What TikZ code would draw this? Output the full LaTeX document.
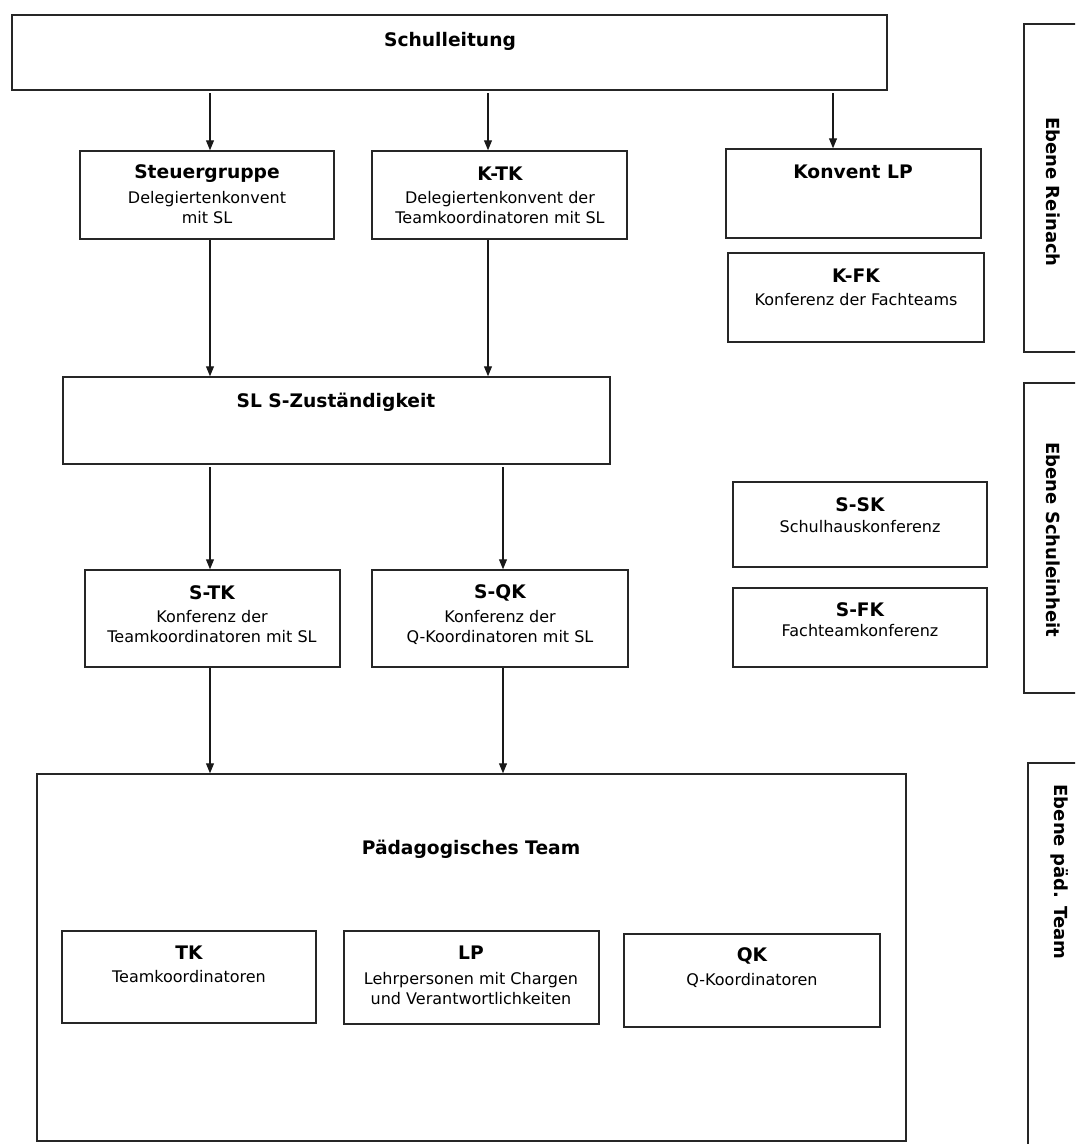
\documentclass[tikz,border=0pt]{standalone}
\usepackage{fontspec}
\setmainfont{DejaVu Sans}
\usetikzlibrary{arrows.meta,fit}
\tikzset{
  box/.style={draw=black!85, line width=1.1pt, inner sep=0pt},
  ttl/.style={font=\fontsize{14}{17}\selectfont\bfseries, inner sep=0pt},
  sub/.style={font=\fontsize{12}{15}\selectfont, align=center, inner sep=0pt},
  lvl/.style={font=\fontsize{13.5}{16}\selectfont\bfseries, rotate=-90, inner sep=0pt},
  arr/.style={-{Triangle[width=6pt,length=7.5pt]}, line width=0.8pt, draw=black!90},
}
\begin{document}
\begin{tikzpicture}[x=0.75pt,y=-0.75pt]
    \useasboundingbox (0,0) rectangle (1075,1144);
    \clip (0,0) rectangle (1075,1144);
    % ---- Ebene Reinach ----
    \node[box, fit={(12,15) (887,90)}] (sl) {};
    \node[ttl] (sl-t) at (450,41) {Schulleitung};
    \node[box, fit={(80,151) (334,239)}] (steuer) {};
    \node[ttl] (steuer-t) at (207,174) {Steuergruppe};
    \node[sub] (steuer-s) at (207,208) {Delegiertenkonvent\\mit SL};
    \node[box, fit={(372,151) (627,239)}] (ktk) {};
    \node[ttl] (ktk-t) at (500,174) {K-TK};
    \node[sub] (ktk-s) at (500,208) {Delegiertenkonvent der\\Teamkoordinatoren mit SL};
    \node[box, fit={(726,149) (981,238)}] (konv) {};
    \node[ttl] (konv-t) at (853,172) {Konvent LP};
    \node[box, fit={(728,253) (984,342)}] (kfk) {};
    \node[ttl] (kfk-t) at (856,276) {K-FK};
    \node[sub] (kfk-s) at (856,300) {Konferenz der Fachteams};
    % ---- Ebene Schuleinheit ----
    \node[box, fit={(63,377) (610,464)}] (slsz) {};
    \node[ttl] (slsz-t) at (336,402) {SL S-Zuständigkeit};
    \node[box, fit={(85,570) (340,667)}] (stk) {};
    \node[ttl] (stk-t) at (212,593) {S-TK};
    \node[sub] (stk-s) at (212,627) {Konferenz der\\Teamkoordinatoren mit SL};
    \node[box, fit={(372,570) (628,667)}] (sqk) {};
    \node[ttl] (sqk-t) at (500,593) {S-QK};
    \node[sub] (sqk-s) at (500,627) {Konferenz der\\Q-Koordinatoren mit SL};
    \node[box, fit={(733,482) (987,567)}] (ssk) {};
    \node[ttl] (ssk-t) at (860,505) {S-SK};
    \node[sub] (ssk-s) at (860,527) {Schulhauskonferenz};
    \node[box, fit={(733,588) (987,667)}] (sfk) {};
    \node[ttl] (sfk-t) at (860,610) {S-FK};
    \node[sub] (sfk-s) at (860,631) {Fachteamkonferenz};
    % ---- Ebene paed. Team ----
    \node[box, fit={(37,774) (906,1141)}] (paed) {};
    \node[ttl] (paed-t) at (471,849) {Pädagogisches Team};
    \node[box, fit={(62,931) (316,1023)}] (tk) {};
    \node[ttl] (tk-t) at (189,953) {TK};
    \node[sub] (tk-s) at (189,977) {Teamkoordinatoren};
    \node[box, fit={(344,931) (599,1024)}] (lp) {};
    \node[ttl] (lp-t) at (471,953) {LP};
    \node[sub] (lp-s) at (471,989) {Lehrpersonen mit Chargen\\und Verantwortlichkeiten};
    \node[box, fit={(624,934) (880,1027)}] (qk) {};
    \node[ttl] (qk-t) at (752,956) {QK};
    \node[sub] (qk-s) at (752,980) {Q-Koordinatoren};
    % ---- Ebenen ----
    \node[box, fit={(1024,24) (1095,352)}] (ebr) {};
    \node[lvl] (ebr-t) at (1053,192) {Ebene Reinach};
    \node[box, fit={(1024,383) (1095,693)}] (ebs) {};
    \node[lvl] (ebs-t) at (1053,540) {Ebene Schuleinheit};
    \node[box, fit={(1028,763) (1095,1160)}] (ebp) {};
    \node[lvl] (ebp-t) at (1060,872) {Ebene päd. Team};
    % ---- Pfeile ----
    \coordinate (xa) at (210,0);
    \coordinate (xb) at (488,0);
    \coordinate (xc) at (503,0);
    \coordinate (xd) at (833,0);
    \draw[arr, shorten <=2pt] (sl.south -| xa) -- (steuer.north -| xa);
    \draw[arr, shorten <=2pt] (sl.south -| xb) -- (ktk.north -| xb);
    \draw[arr, shorten <=2pt] (sl.south -| xd) -- (konv.north -| xd);
    \draw[arr] (steuer.south -| xa) -- (slsz.north -| xa);
    \draw[arr] (ktk.south -| xb) -- (slsz.north -| xb);
    \draw[arr, shorten <=2pt] (slsz.south -| xa) -- (stk.north -| xa);
    \draw[arr, shorten <=2pt] (slsz.south -| xc) -- (sqk.north -| xc);
    \draw[arr] (stk.south -| xa) -- (paed.north -| xa);
    \draw[arr] (sqk.south -| xc) -- (paed.north -| xc);
\end{tikzpicture}
\end{document}
